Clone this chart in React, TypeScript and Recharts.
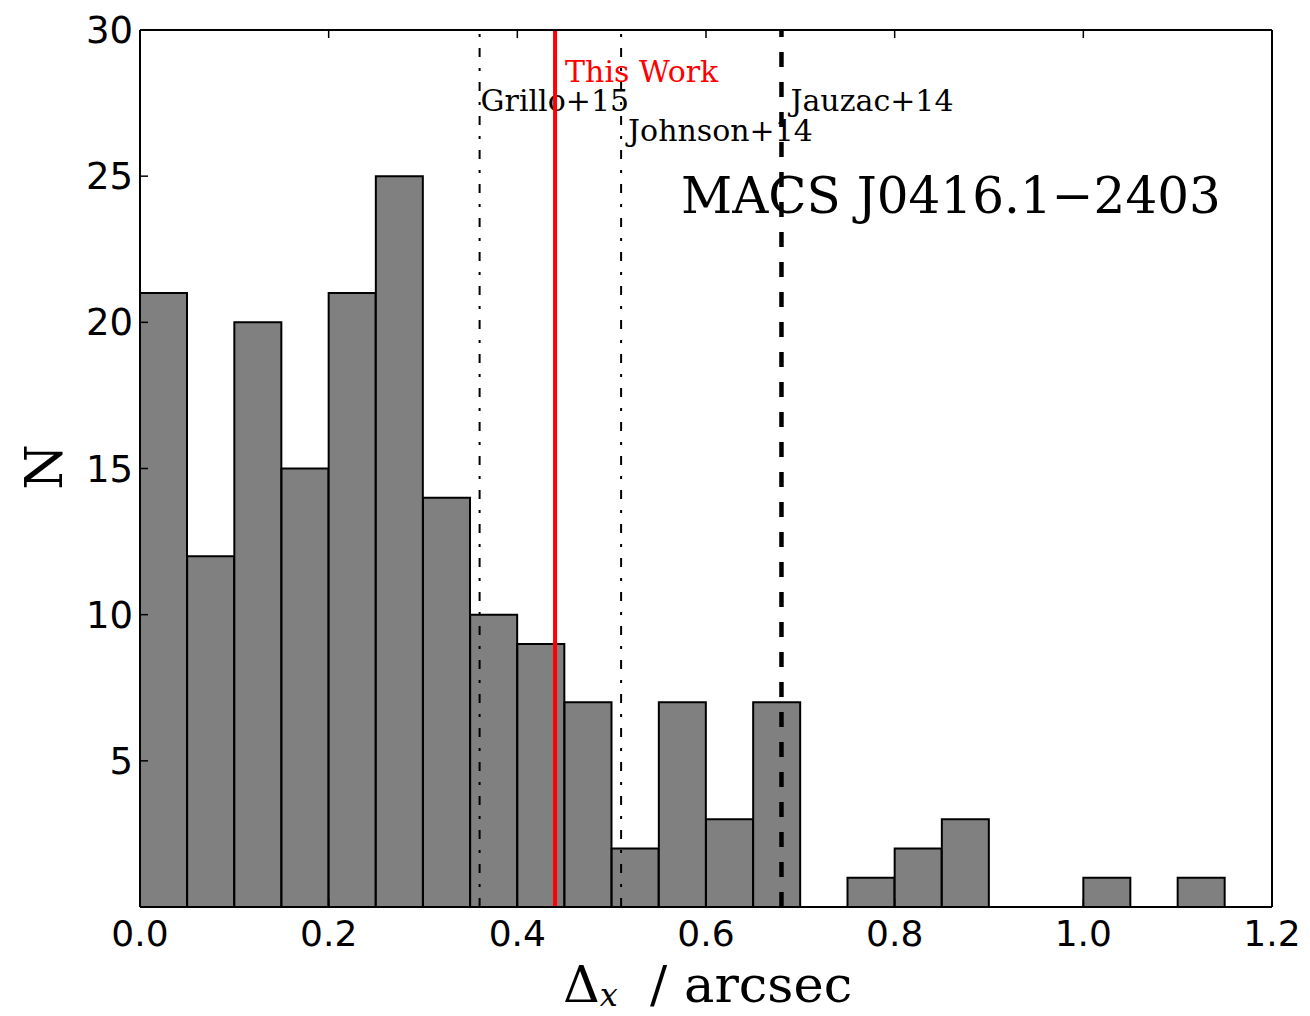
import React from 'react'
import {
  ComposedChart,
  Bar,
  XAxis,
  YAxis,
  ReferenceLine,
  Label,
} from 'recharts'

// histogram of offsets, bins 0.05 arcsec wide
const binLeft = [
  0.0, 0.05, 0.1, 0.15, 0.2, 0.25, 0.3, 0.35, 0.4, 0.45, 0.5, 0.55,
  0.6, 0.65, 0.7, 0.75, 0.8, 0.85, 0.9, 0.95, 1.0, 1.05, 1.1, 1.15,
]
const counts = [
  21, 12, 20, 15, 21, 25, 14, 10, 9, 7, 2, 7,
  3, 7, 0, 1, 2, 3, 0, 0, 1, 0, 1, 0,
]
const BIN_WIDTH = 0.05

const xTicks = [0, 0.2, 0.4, 0.6, 0.8, 1.0, 1.2]
const yTicks = [0, 5, 10, 15, 20, 25, 30]

const refLines = [
  { name: 'Grillo+15', x: 0.36, color: '#000', dash: '9 11 3 11', width: 2, dx: 1, dy: 81 },
  { name: 'This Work', x: 0.44, color: '#ff0000', dash: undefined, width: 4, dx: 10, dy: 52 },
  { name: 'Johnson+14', x: 0.51, color: '#000', dash: '9 11 3 11', width: 2, dx: 7, dy: 111 },
  { name: 'Jauzac+14', x: 0.68, color: '#000', dash: '15 15', width: 4.5, dx: 9, dy: 81 },
]

const data = binLeft.map((b, i) => ({ x: b + BIN_WIDTH / 2, n: counts[i] }))

const SANS = 'DejaVu Sans'
const SERIF = 'DejaVu Serif'
const TICK = 8

const BottomTick = (props: any) => {
  const { x, y, payload } = props
  return (
    <g>
      <line x1={x} x2={x} y1={y} y2={y - TICK} stroke="#000" strokeWidth={1.5} />
      <text x={x} y={y + 39} textAnchor="middle" fontSize={36} fontFamily={SANS} fill="#000">
        {payload.value.toFixed(1)}
      </text>
    </g>
  )
}

const TopTick = (props: any) => {
  const { x, y } = props
  return <line x1={x} x2={x} y1={y} y2={y + TICK} stroke="#000" strokeWidth={1.5} />
}

const LeftTick = (props: any) => {
  const { x, y, payload } = props
  return (
    <g>
      <line x1={x} x2={x + TICK} y1={y} y2={y} stroke="#000" strokeWidth={1.5} />
      {payload.value !== 0 && (
        <text x={x - 7} y={y + 13} textAnchor="end" fontSize={37} fontFamily={SANS} fill="#000">
          {payload.value}
        </text>
      )}
    </g>
  )
}

const RightTick = (props: any) => {
  const { x, y } = props
  return <line x1={x} x2={x - TICK} y1={y} y2={y} stroke="#000" strokeWidth={1.5} />
}

const App = () => {
  return (
    <div style={{ position: 'absolute', left: 0, top: 0 }}>
      <ComposedChart
        width={1310}
        height={1016}
        data={data}
        margin={{ top: 10, right: 18, bottom: 79, left: 80 }}
        barCategoryGap={0}
        barGap={0}
      >
        <XAxis
          xAxisId="b"
          dataKey="x"
          type="number"
          domain={[0, 1.2]}
          ticks={xTicks}
          allowDataOverflow
          height={30}
          tickSize={0}
          tickMargin={0}
          tickLine={false}
          tick={<BottomTick />}
          axisLine={{ stroke: '#000', strokeWidth: 2 }}
        >
          <Label
            content={(props: any) => {
              const { viewBox } = props
              const cx = viewBox.x + viewBox.width / 2
              return (
                <text x={cx - 143} y={1002} fontSize={51} fontFamily={SERIF} fill="#000">
                  Δ
                  <tspan fontStyle="italic" fontSize={32} dy={4}>x</tspan>
                  <tspan x={cx - 56} dy={-4}>/</tspan>
                  <tspan x={cx - 22}>arcsec</tspan>
                </text>
              )
            }}
          />
        </XAxis>
        <XAxis
          xAxisId="t"
          dataKey="x"
          type="number"
          orientation="top"
          domain={[0, 1.2]}
          ticks={xTicks}
          allowDataOverflow
          height={20}
          tickSize={0}
          tickMargin={0}
          tickLine={false}
          tick={<TopTick />}
          axisLine={{ stroke: '#000', strokeWidth: 2 }}
        />
        <YAxis
          yAxisId="l"
          type="number"
          domain={[0, 30]}
          ticks={yTicks}
          width={60}
          tickSize={0}
          tickMargin={0}
          tickLine={false}
          tick={<LeftTick />}
          axisLine={{ stroke: '#000', strokeWidth: 2 }}
        >
          <Label
            content={() => (
              <text
                x={62}
                y={467}
                transform="rotate(-90 62 467)"
                textAnchor="middle"
                fontSize={52}
                fontFamily={SERIF}
                fill="#000"
              >
                N
              </text>
            )}
          />
        </YAxis>
        <YAxis
          yAxisId="r"
          orientation="right"
          type="number"
          domain={[0, 30]}
          ticks={yTicks}
          width={20}
          tickSize={0}
          tickMargin={0}
          tickLine={false}
          tick={<RightTick />}
          axisLine={{ stroke: '#000', strokeWidth: 2 }}
        />
        <Bar
          xAxisId="b"
          yAxisId="l"
          dataKey="n"
          fill="#808080"
          stroke="#000"
          strokeWidth={2}
          isAnimationActive={false}
        />
        {refLines.map((r) => (
          <ReferenceLine
            key={r.name}
            xAxisId="b"
            yAxisId="l"
            x={r.x}
            stroke={r.color}
            strokeWidth={r.width}
            strokeDasharray={r.dash}
            label={(props: any) => {
              const { viewBox } = props
              return (
                <text
                  x={viewBox.x + r.dx}
                  y={viewBox.y + r.dy}
                  fontSize={30}
                  fontFamily={SERIF}
                  fill={r.color}
                >
                  {r.name}
                </text>
              )
            }}
          />
        ))}
        <ReferenceLine
          xAxisId="b"
          yAxisId="l"
          y={30}
          stroke="none"
          label={(props: any) => {
            const { viewBox } = props
            return (
              <text
                x={viewBox.x + 541}
                y={viewBox.y + 183}
                fontSize={50}
                fontFamily={SERIF}
                fill="#000"
              >
                MACS J0416.1−2403
              </text>
            )
          }}
        />
      </ComposedChart>
    </div>
  )
}

export default App
